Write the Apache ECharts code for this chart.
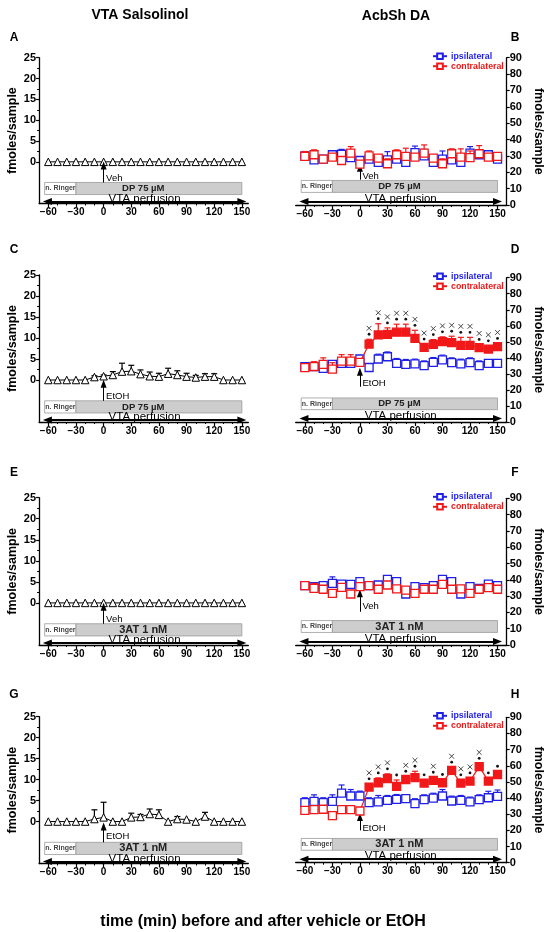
<!DOCTYPE html>
<html>
<head>
<meta charset="utf-8">
<script src="https://cdn.jsdelivr.net/npm/echarts@6/dist/echarts.min.js"></script>
<style>
html, body { margin: 0; padding: 0; background: #fff; }
#main { width: 550px; height: 932px; }
</style>
</head>
<body>
<div id="main"></div>
<script>
// sampling times (min) relative to vehicle / EtOH
var time = [-60,-50,-40,-30,-20,-10,0,10,20,30,40,50,60,70,80,90,100,110,120,130,140,150];

// VTA salsolinol, fmoles/sample (mean, SEM)
var salsoA    = [0,0,0,0,0,0,0,0,0,0,0,0,0,0,0,0,0,0,0,0,0,0];
var salsoAsem = [0,0,0,0,0,0,0,0,0,0,0,0,0,0,0,0,0,0,0,0,0,0];
var salsoC    = [0,0,0,0,0,0.7,0.9,1.2,2.0,2.1,1.4,0.9,0.8,1.5,1.2,0.8,0.6,0.8,0.8,0,0,0];
var salsoCsem = [0,0,0,0,0,0.3,0.3,0.8,2.0,1.4,1.0,1.0,0.8,1.3,1.0,0.8,0.5,0.7,0.7,0,0,0];
var salsoE    = [0,0,0,0,0,0,0,0,0,0,0,0,0,0,0,0,0,0,0,0,0,0];
var salsoEsem = [0,0,0,0,0,0,0,0,0,0,0,0,0,0,0,0,0,0,0,0,0,0];
var salsoG    = [0,0,0,0,0,0.6,1.0,0,0,1.0,1.1,1.8,1.6,0,0.6,0.5,0,1.2,0,0,0,0];
var salsoGsem = [0,0,0,0,0,2.2,3.6,0,0,1.0,0.6,1.2,1.2,0,0.6,0,0,1.0,0,0,0,0];

// AcbSh DA, fmoles/sample (mean, SEM)
var ipsiB      = [30,27.6,28,30.7,31,29,27.2,28,26,27.6,28,26,32,30,26,28,27.6,26,31.7,30.7,30.7,28];
var ipsiBsem   = [1,2,1,2,3,2,1,2,2,5,2,3,4,4,2,5,2,4,4,3,1,2];
var contraB    = [29.7,30.7,28,29.3,27.2,31.7,25,30,28.7,25.2,30.7,29.7,29.3,31.7,28.7,25.2,31.3,29.3,29,31.3,29.3,29.7];
var contraBsem = [3,3,1,2,2,4,2,3,2,3,3,5,2,5,2,3,3,5,4,5,2,1];

var ipsiD      = [34.5,34.5,33.5,36,36.6,36.6,39.3,34,39.3,40.7,36.6,36,36.2,35.1,37.2,38.7,37,36.2,37,35.1,36.6,36.6];
var ipsiDsem   = [1,2,2,2,2,2,1,2,3,3,3,3,3,3,3,3,3,3,3,3,2,2];
var contraD    = [33.9,34.6,36,33,38,38,37.2,48.6,54.3,54.7,56,56,52.2,46.6,48.4,50.1,49.5,47.8,47.8,46.4,45.5,47];
var contraDsem = [2,3,4,4,4,4,2,3,7,4,5,5,5,2,3,3,4,5,5,2,2,2];

var ipsiF      = [36.4,35.8,36.4,37.8,37.4,37.2,38.9,36.4,36.8,40.3,38.9,31.3,35.8,35.2,36.4,40.3,38.9,31.3,35.8,34.8,37.4,36.4];
var ipsiFsem   = [1,1,2,4,1,2,2,1,1,2,1,1,1,1,1,2,1,1,1,1,1,1];
var contraF    = [36.4,34.8,34.2,31.7,35.4,31.3,35.8,36.4,34.2,36.8,34.4,33.7,31.7,34.2,34.2,37.2,34.2,34.4,31.7,34.2,35.2,34.2];
var contraFsem = [1,3,1,1,1,1,1,1,1,1,1,1,1,1,1,1,1,1,1,1,1,1];

var ipsiH      = [37.2,38,37.2,38,43.1,41.3,41.3,37.2,37.6,38.6,39.2,39.6,36.6,39,40,41.3,38.2,38.6,37.6,39,40.2,41];
var ipsiHsem   = [3,4,3,4,5,4,3,3,4,3,3,2,3,3,3,4,3,3,3,3,4,4];
var contraH    = [32.4,32.9,33.1,29.2,32.9,32.9,32,46.8,49.5,52,47.2,51.5,52.6,49.3,50.9,49.5,57.1,49.3,50.5,59.5,50.5,54.6];
var contraHsem = [1,1,2,1,2,2,2,2,3,3,4,2,4,2,2,2,2,2,2,2,2,2];

// significance: times marked with a dot / with a cross
var sigDotD   = [10,20,30,40,50,60,70,80,90,100,110,120,130,140,150];
var sigCrossD = [10,20,30,40,50,60,70,80,90,100,110,120,130,140,150];
var sigDotH   = [10,20,30,40,50,60,70,80,90,100,110,120,130,140,150];
var sigCrossH = [10,20,30,50,60,80,100,110,120,130];

// tick labels
var xTicks  = [-60,-30,0,30,60,90,120,150];
var xMinor  = [-50,-40,-20,-10,10,20,40,50,70,80,100,110,130,140];
var yTicksL = [0,5,10,15,20,25];
var yMinorL = [2.5,7.5,12.5,17.5,22.5];

// perfusion protocol (min)
var RINGER_START = -64, DRUG_START = -30, PERF_END = 150;

var FONT = 'Liberation Sans, Arial, sans-serif';
var BLUE = '#1f1fe6', RED = '#f01818';

var panels = [
  {key:'A', side:'L', top:57.7,  bottom:203.5, drug:'DP 75 µM', event:'Veh',  evt:[-4.95,-0.9,-3.9], mean:salsoA, sem:salsoAsem},
  {key:'B', side:'R', top:57.7,  bottom:205,   drug:'DP 75 µM', event:'Veh',  evt:[15.5,22.8,17.4], ipsi:ipsiB, ipsiSem:ipsiBsem, contra:contraB, contraSem:contraBsem, dot:[], cross:[]},
  {key:'C', side:'L', top:275,   bottom:422,   drug:'DP 75 µM', event:'EtOH', evt:[-4.95,-0.9,-3.9], mean:salsoC, sem:salsoCsem},
  {key:'D', side:'R', top:277.7, bottom:422,   drug:'DP 75 µM', event:'EtOH', evt:[22,31.4,24],     ipsi:ipsiD, ipsiSem:ipsiDsem, contra:contraD, contraSem:contraDsem, dot:sigDotD, cross:sigCrossD},
  {key:'E', side:'L', top:497.7, bottom:645,   drug:'3AT 1 nM', event:'Veh',  evt:[-4.95,-0.9,-3.9], mean:salsoE, sem:salsoEsem},
  {key:'F', side:'R', top:498.3, bottom:645,   drug:'3AT 1 nM', event:'Veh',  evt:[20.4,31.7,23.5], ipsi:ipsiF, ipsiSem:ipsiFsem, contra:contraF, contraSem:contraFsem, dot:[], cross:[]},
  {key:'G', side:'L', top:716.7, bottom:863.5, drug:'3AT 1 nM', event:'EtOH', evt:[-4.95,-1.2,-3.6], mean:salsoG, sem:salsoGsem},
  {key:'H', side:'R', top:717.3, bottom:862.7, drug:'3AT 1 nM', event:'EtOH', evt:[20,28.3,21],     ipsi:ipsiH, ipsiSem:ipsiHsem, contra:contraH, contraSem:contraHsem, dot:sigDotH, cross:sigCrossH}
];

function fmt(v) { return v < 0 ? '\u2212' + (-v) : String(v); }

function errRender(color) {
  return function (params, api) {
    var t = api.value(0), lo = api.value(1), hi = api.value(2);
    if (!(hi - lo > 0)) return null;
    var p0 = api.coord([t, lo]), p1 = api.coord([t, hi]);
    var st = {stroke: color, lineWidth: 1.2};
    return {type: 'group', children: [
      {type: 'line', shape: {x1: p0[0], y1: p0[1], x2: p1[0], y2: p1[1]}, style: st},
      {type: 'line', shape: {x1: p1[0] - 3, y1: p1[1], x2: p1[0] + 3, y2: p1[1]}, style: st}
    ]};
  };
}

function sigRender(params, api) {
  var p = api.coord([api.value(0), api.value(1)]);
  var ch = [{type: 'circle', shape: {cx: p[0], cy: p[1] - 5, r: 1.4}, style: {fill: '#111'}}];
  if (api.value(2)) {
    var cy = p[1] - 11, s = 2.4, st = {stroke: '#333', lineWidth: 0.9};
    ch.push({type: 'line', shape: {x1: p[0] - s, y1: cy - s, x2: p[0] + s, y2: cy + s}, style: st});
    ch.push({type: 'line', shape: {x1: p[0] - s, y1: cy + s, x2: p[0] + s, y2: cy - s}, style: st});
  }
  return {type: 'group', children: ch};
}

function protocolMarks(p, L) {
  var bar = L ? [-4.95, -7.85] : [15, 7.7];
  var arrowY = L ? -9.5 : 2.2;
  var border = {borderColor: '#9a9a9a', borderWidth: 0.8};
  var drugSize = p.drug.indexOf('3AT') === 0 ? 11 : 9.5;
  return {
    markArea: {silent: true, data: [
      [{coord: [RINGER_START, bar[0]], itemStyle: Object.assign({color: '#fff'}, border),
        label: {show: true, position: 'insideLeft', distance: 1, formatter: 'n. Ringer', fontSize: 7, fontWeight: 'bold', color: '#444'}},
       {coord: [DRUG_START, bar[1]]}],
      [{coord: [DRUG_START, bar[0]], itemStyle: Object.assign({color: '#cdcdcd'}, border), label: {show: false}},
       {coord: [PERF_END, bar[1]]}]
    ]},
    markLine: {silent: true, animation: false, data: [
      [{coord: [-61, arrowY], symbol: 'triangle', symbolSize: [7, 9], lineStyle: {color: '#000', width: 2, type: 'solid'},
        label: {show: true, position: 'insideMiddleTop', distance: -3, formatter: 'VTA perfusion', color: '#000', fontSize: 11.5}},
       {coord: [PERF_END, arrowY], symbol: 'triangle', symbolSize: [7, 9]}],
      [{coord: [0, p.evt[0]], symbol: 'none', lineStyle: {color: '#000', width: 1, type: 'solid'}, label: {show: false}},
       {coord: [0, p.evt[1]], symbol: 'triangle', symbolSize: [6, 8]}]
    ]},
    markPoint: {silent: true, animation: false, data: [
      {coord: [0, p.evt[2]], symbol: 'circle', symbolSize: 1, itemStyle: {color: 'rgba(0,0,0,0)'},
       label: {show: true, position: 'right', distance: 2, formatter: p.event, color: '#000', fontSize: 9.5}},
      {coord: [(RINGER_START + PERF_END) / 2, (bar[0] + bar[1]) / 2], symbol: 'circle', symbolSize: 1, itemStyle: {color: 'rgba(0,0,0,0)'},
       label: {show: true, position: 'inside', formatter: p.drug, color: '#222', fontSize: drugSize, fontWeight: 'bold'}}
    ]}
  };
}

var grids = [], xAxes = [], yAxes = [], series = [], legends = [], graphics = [];
var axisLineStyle = {color: '#000', width: 1.3};

panels.forEach(function (p, i) {
  var L = p.side === 'L';
  var xmax = L ? 157 : 160;
  grids.push({left: L ? 39.1 : 295.7, width: L ? 209.2 : 211, top: p.top, height: p.bottom - p.top});

  xAxes.push({type: 'value', gridIndex: i, min: -70, max: xmax, position: 'bottom', splitLine: {show: false},
    axisLine: {onZero: false, lineStyle: axisLineStyle},
    axisTick: {customValues: xTicks, length: 4, lineStyle: {color: '#000', width: 1.2}},
    axisLabel: {customValues: xTicks, formatter: fmt, color: '#000', fontSize: 10, fontWeight: 'bold', margin: 4, fontFamily: FONT}});
  xAxes.push({type: 'value', gridIndex: i, min: -70, max: xmax, position: 'bottom', splitLine: {show: false},
    axisLine: {show: false, onZero: false},
    axisTick: {customValues: xMinor, length: 2, lineStyle: {color: '#000', width: 1}},
    axisLabel: {show: false}});

  if (L) {
    yAxes.push({type: 'value', gridIndex: i, min: -10, max: 25, position: 'left', splitLine: {show: false},
      axisLine: {onZero: false, lineStyle: axisLineStyle},
      axisTick: {customValues: yTicksL, length: 3, lineStyle: {color: '#000', width: 1.2}},
      axisLabel: {customValues: yTicksL, color: '#000', fontSize: 11, fontWeight: 'bold', margin: 3, fontFamily: FONT},
      name: 'fmoles/sample', nameLocation: 'middle', nameRotate: 90, nameGap: 20,
      nameTextStyle: {fontSize: 12.5, fontWeight: 'bold', color: '#000', fontFamily: FONT}});
    yAxes.push({type: 'value', gridIndex: i, min: -10, max: 25, position: 'left', splitLine: {show: false},
      axisLine: {show: false, onZero: false},
      axisTick: {customValues: yMinorL, length: 2, lineStyle: {color: '#000', width: 1}},
      axisLabel: {show: false}});
  } else {
    yAxes.push({type: 'value', gridIndex: i, min: 0, max: 90, interval: 10, position: 'right', splitLine: {show: false},
      axisLine: {onZero: false, lineStyle: axisLineStyle},
      axisTick: {length: 3, lineStyle: {color: '#000', width: 1.2}},
      axisLabel: {color: '#000', fontSize: 11, fontWeight: 'bold', margin: 3, fontFamily: FONT},
      name: 'fmoles/sample', nameLocation: 'middle', nameRotate: -90, nameGap: 25,
      nameTextStyle: {fontSize: 12.5, fontWeight: 'bold', color: '#000', fontFamily: FONT}});
    yAxes.push({type: 'value', gridIndex: i, min: 0, max: 90, position: 'right', show: false});
  }

  var xi = 2 * i, yi = 2 * i;
  var marks = protocolMarks(p, L);

  if (L) {
    series.push({type: 'custom', xAxisIndex: xi, yAxisIndex: yi, silent: true, z: 2,
      renderItem: errRender('#000'), encode: {x: 0, y: [1, 2]},
      data: time.map(function (t, k) { return [t, p.mean[k], p.mean[k] + p.sem[k]]; })});
    series.push(Object.assign({type: 'line', name: 'salsolinol ' + p.key, xAxisIndex: xi, yAxisIndex: yi, z: 3,
      symbol: 'triangle', symbolSize: 7.5, showAllSymbol: true,
      itemStyle: {color: '#fff', borderColor: '#000', borderWidth: 1},
      lineStyle: {color: '#000', width: 1},
      data: time.map(function (t, k) { return [t, p.mean[k]]; })}, marks));
  } else {
    series.push({type: 'custom', xAxisIndex: xi, yAxisIndex: yi, silent: true, z: 2,
      renderItem: errRender(BLUE), encode: {x: 0, y: [1, 2]},
      data: time.map(function (t, k) { return [t, p.ipsi[k], p.ipsi[k] + p.ipsiSem[k]]; })});
    series.push(Object.assign({type: 'line', name: 'ipsilateral', xAxisIndex: xi, yAxisIndex: yi, z: 3,
      symbol: 'rect', symbolSize: 8, showAllSymbol: true,
      itemStyle: {color: '#fff', borderColor: BLUE, borderWidth: 1.3},
      lineStyle: {color: BLUE, width: 1.2},
      data: time.map(function (t, k) { return [t, p.ipsi[k]]; })}, marks));
    series.push({type: 'custom', xAxisIndex: xi, yAxisIndex: yi, silent: true, z: 4,
      renderItem: errRender(RED), encode: {x: 0, y: [1, 2]},
      data: time.map(function (t, k) { return [t, p.contra[k], p.contra[k] + p.contraSem[k]]; })});
    series.push({type: 'line', name: 'contralateral', xAxisIndex: xi, yAxisIndex: yi, z: 5,
      symbol: 'rect', symbolSize: 8, showAllSymbol: true,
      itemStyle: {color: '#fff', borderColor: RED, borderWidth: 1.3},
      lineStyle: {color: RED, width: 1.2},
      data: time.map(function (t, k) {
        var v = [t, p.contra[k]];
        return p.dot.indexOf(t) >= 0 ? {value: v, itemStyle: {color: RED}} : v;
      })});
    var sig = [];
    time.forEach(function (t, k) {
      if (p.dot.indexOf(t) >= 0) sig.push([t, p.contra[k] + p.contraSem[k], p.cross.indexOf(t) >= 0 ? 1 : 0]);
    });
    if (sig.length) {
      series.push({type: 'custom', xAxisIndex: xi, yAxisIndex: yi, silent: true, z: 6,
        renderItem: sigRender, encode: {x: 0, y: 1}, data: sig});
    }
    legends.push({data: [{name: 'ipsilateral', textStyle: {color: BLUE}}, {name: 'contralateral', textStyle: {color: RED}}],
      orient: 'vertical', left: 427, top: p.top - 11, itemWidth: 14, itemHeight: 7, itemGap: 1, selectedMode: false,
      textStyle: {fontSize: 8.8, fontWeight: 'bold', fontFamily: FONT, padding: [0, 0, 0, -1]}});
  }

  graphics.push({type: 'text', x: L ? 14 : 515, y: i < 2 ? 38 : (i < 4 ? 250 : (i < 6 ? 473 : 695)),
    style: {text: p.key, font: 'bold 12px ' + FONT, fill: '#000', align: 'center', verticalAlign: 'middle', textAlign: 'center', textVerticalAlign: 'middle'}});
});

graphics.push({type: 'text', x: 140, y: 15,
  style: {text: 'VTA Salsolinol', font: 'bold 14px ' + FONT, fill: '#000', align: 'center', verticalAlign: 'middle', textAlign: 'center', textVerticalAlign: 'middle'}});
graphics.push({type: 'text', x: 396, y: 16,
  style: {text: 'AcbSh DA', font: 'bold 14px ' + FONT, fill: '#000', align: 'center', verticalAlign: 'middle', textAlign: 'center', textVerticalAlign: 'middle'}});
graphics.push({type: 'text', x: 263, y: 922,
  style: {text: 'time (min) before and after vehicle or EtOH', font: 'bold 16px ' + FONT, fill: '#000', align: 'center', verticalAlign: 'middle', textAlign: 'center', textVerticalAlign: 'middle'}});

var chart = echarts.init(document.getElementById('main'));
chart.setOption({
  backgroundColor: '#fff',
  animation: false,
  textStyle: {fontFamily: FONT},
  grid: grids,
  xAxis: xAxes,
  yAxis: yAxes,
  legend: legends,
  series: series,
  graphic: graphics
});
</script>
</body>
</html>
